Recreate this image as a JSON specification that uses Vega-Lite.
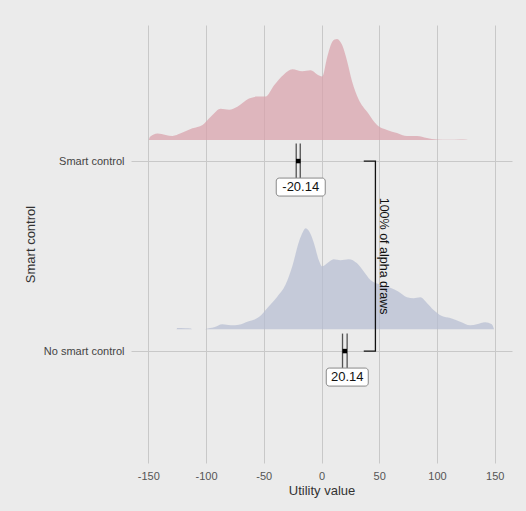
{
  "$schema": "https://vega.github.io/schema/vega-lite/v6.json",
  "width": 381,
  "height": 438,
  "autosize": {"type": "none"},
  "padding": {"left": 131, "top": 25, "right": 14, "bottom": 48},
  "background": "#EBEBEB",
  "config": {
    "view": {"stroke": null},
    "font": "Liberation Sans",
    "locale": {"number": {"decimal": ".", "thousands": ",", "grouping": [3], "currency": ["$", ""], "minus": "-"}},
    "axis": {"labelFont": "Liberation Sans", "titleFont": "Liberation Sans"}
  },
  "datasets": {
    "smart": [
      {"u": -149.5, "d": 0}, {"u": -148.7, "d": 0.03}, {"u": -142, "d": 0.065}, {"u": -135, "d": 0.05},
      {"u": -129, "d": 0.04}, {"u": -121.9, "d": 0.066}, {"u": -111.8, "d": 0.116}, {"u": -103, "d": 0.15},
      {"u": -95.9, "d": 0.23}, {"u": -87.3, "d": 0.31}, {"u": -80, "d": 0.3}, {"u": -72.9, "d": 0.33},
      {"u": -62.8, "d": 0.41}, {"u": -55.6, "d": 0.43}, {"u": -48.4, "d": 0.43}, {"u": -41.2, "d": 0.54},
      {"u": -32.6, "d": 0.65}, {"u": -25.3, "d": 0.7}, {"u": -16.7, "d": 0.68}, {"u": -9.5, "d": 0.69},
      {"u": -3.7, "d": 0.65}, {"u": 0.6, "d": 0.63}, {"u": 4.9, "d": 0.82}, {"u": 9.2, "d": 0.97},
      {"u": 11.5, "d": 0.995}, {"u": 13.5, "d": 1.0}, {"u": 15.8, "d": 0.98}, {"u": 17.9, "d": 0.94}, {"u": 22.2, "d": 0.78}, {"u": 26.5, "d": 0.58},
      {"u": 32.3, "d": 0.4}, {"u": 39.5, "d": 0.28}, {"u": 48.1, "d": 0.15}, {"u": 56.8, "d": 0.1},
      {"u": 65.4, "d": 0.07}, {"u": 74, "d": 0.04}, {"u": 82.7, "d": 0.04}, {"u": 91.3, "d": 0.02},
      {"u": 100, "d": 0.005}, {"u": 110, "d": 0.002}, {"u": 120, "d": 0.006}, {"u": 126, "d": 0.004},
      {"u": 127, "d": 0}
    ],
    "nosmart": [
      {"u": -125.5, "d": 0}, {"u": -125, "d": 0.012}, {"u": -118, "d": 0.01}, {"u": -113, "d": 0.008},
      {"u": -112, "d": 0}, {"u": -101, "d": 0}, {"u": -100.3, "d": 0.003}, {"u": -93, "d": 0.02},
      {"u": -85.8, "d": 0.05}, {"u": -78.6, "d": 0.04}, {"u": -71.5, "d": 0.045}, {"u": -64.2, "d": 0.075},
      {"u": -54.2, "d": 0.12}, {"u": -46.9, "d": 0.21}, {"u": -38.3, "d": 0.32}, {"u": -31.1, "d": 0.44},
      {"u": -25.3, "d": 0.62}, {"u": -19.6, "d": 0.86}, {"u": -16.5, "d": 0.95}, {"u": -13.8, "d": 0.995}, {"u": -11, "d": 0.97},
      {"u": -6.6, "d": 0.85}, {"u": -2.3, "d": 0.68}, {"u": 0.6, "d": 0.62}, {"u": 4.9, "d": 0.65},
      {"u": 10.6, "d": 0.69}, {"u": 16.4, "d": 0.68}, {"u": 23.6, "d": 0.69}, {"u": 30.8, "d": 0.65},
      {"u": 36.6, "d": 0.57}, {"u": 42.4, "d": 0.485}, {"u": 51, "d": 0.44}, {"u": 59.6, "d": 0.41},
      {"u": 66.8, "d": 0.37}, {"u": 74, "d": 0.315}, {"u": 79.8, "d": 0.305}, {"u": 85.6, "d": 0.315},
      {"u": 91.3, "d": 0.26}, {"u": 97.1, "d": 0.19}, {"u": 104.3, "d": 0.13}, {"u": 111.5, "d": 0.11},
      {"u": 120.1, "d": 0.075}, {"u": 128.8, "d": 0.04}, {"u": 134.6, "d": 0.05}, {"u": 141.7, "d": 0.07},
      {"u": 147.5, "d": 0.05}, {"u": 149.5, "d": 0}
    ],
    "summary": [
      {"group": "Smart control", "level": 2, "mean": -20.14, "lower": -21.9, "upper": -18.4},
      {"group": "No smart control", "level": 1, "mean": 20.14, "lower": 18.2, "upper": 22.2}
    ],
    "bracket": [
      {"bx": 36.6, "level": 2, "o": 1},
      {"bx": 46.7, "level": 2, "o": 2},
      {"bx": 46.7, "level": 1, "o": 3},
      {"bx": 36.6, "level": 1, "o": 4}
    ],
    "note": [
      {"text": "100% of alpha draws", "nx": 54.5, "level": 1.5}
    ]
  },
  "resolve": {"scale": {"y": "independent"}},
  "layer": [
    {
      "data": {"name": "smart"},
      "mark": {"type": "area", "interpolate": "monotone", "color": "#D9A0A9", "opacity": 0.7},
      "encoding": {
        "x": {
          "field": "u", "type": "quantitative",
          "scale": {"domain": [-165, 165], "nice": false, "zero": false},
          "axis": {
            "values": [-150, -100, -50, 0, 50, 100, 150],
            "title": "Utility value",
            "grid": true, "gridColor": "#C8C8C8", "gridWidth": 1,
            "domain": false, "ticks": false,
            "labelFontSize": 11, "labelColor": "#555555", "labelPadding": 7,
            "titleFontSize": 13, "titleFontWeight": "normal", "titleColor": "#333333", "titlePadding": 3
          }
        },
        "y": {
          "field": "d", "type": "quantitative",
          "scale": {"domain": [-3.198, 1.139], "nice": false, "zero": false},
          "axis": null
        },
        "y2": {"datum": 0}
      }
    },
    {
      "data": {"name": "nosmart"},
      "mark": {"type": "area", "interpolate": "monotone", "color": "#B5BCD2", "opacity": 0.7},
      "encoding": {
        "x": {"field": "u", "type": "quantitative"},
        "y": {
          "field": "d", "type": "quantitative",
          "scale": {"domain": [-1.316, 2.995], "nice": false, "zero": false},
          "axis": null
        },
        "y2": {"datum": 0}
      }
    },
    {
      "layer": [
        {
          "data": {"name": "summary"},
          "mark": {"type": "tick", "orient": "vertical", "color": "#111111", "size": 35, "thickness": 1.3},
          "encoding": {
            "x": {"field": "lower", "type": "quantitative"},
            "y": {
              "field": "level", "type": "quantitative",
              "scale": {"domain": [0.411, 2.716], "nice": false, "zero": false},
              "axis": {
                "values": [1, 2],
                "labelExpr": "datum.value == 2 ? 'Smart control' : 'No smart control'",
                "title": "Smart control",
                "grid": true, "gridColor": "#C8C8C8", "gridWidth": 1,
                "domain": false, "ticks": false,
                "labelFontSize": 11, "labelColor": "#444444", "labelPadding": 7,
                "titleFontSize": 13, "titleFontWeight": "normal", "titleColor": "#333333", "titlePadding": 6
              }
            }
          }
        },
        {
          "data": {"name": "summary"},
          "mark": {"type": "tick", "orient": "vertical", "color": "#111111", "size": 35, "thickness": 1.3},
          "encoding": {
            "x": {"field": "upper", "type": "quantitative"},
            "y": {"field": "level", "type": "quantitative"}
          }
        },
        {
          "data": {"name": "summary"},
          "mark": {"type": "point", "shape": "square", "filled": true, "color": "#000000", "size": 20, "opacity": 1},
          "encoding": {
            "x": {"field": "mean", "type": "quantitative"},
            "y": {"field": "level", "type": "quantitative"}
          }
        },
        {
          "mark": {"type": "rule", "color": "#111111", "strokeWidth": 1.2},
          "encoding": {"x": {"datum": 0}}
        },
        {
          "data": {"name": "bracket"},
          "mark": {"type": "line", "color": "#111111", "strokeWidth": 1.3, "interpolate": "linear"},
          "encoding": {
            "x": {"field": "bx", "type": "quantitative"},
            "y": {"field": "level", "type": "quantitative"},
            "order": {"field": "o"}
          }
        },
        {
          "data": {"name": "note"},
          "mark": {"type": "text", "angle": 90, "fontSize": 12.5, "color": "#111111", "baseline": "middle", "align": "center"},
          "encoding": {
            "x": {"field": "nx", "type": "quantitative"},
            "y": {"field": "level", "type": "quantitative"},
            "text": {"field": "text"}
          }
        },
        {
          "data": {"name": "summary"},
          "transform": [{"filter": "datum.level == 2"}],
          "mark": {
            "type": "point", "filled": true, "fill": "#FFFFFF", "stroke": "#888888", "strokeWidth": 1, "opacity": 1,
            "shape": "M-0.878,-0.367 H0.878 A0.122,0.122 0 0 1 1,-0.245 V0.245 A0.122,0.122 0 0 1 0.878,0.367 H-0.878 A0.122,0.122 0 0 1 -1,0.245 V-0.245 A0.122,0.122 0 0 1 -0.878,-0.367 Z",
            "size": 2401, "xOffset": 2.5, "yOffset": 26
          },
          "encoding": {
            "x": {"field": "mean", "type": "quantitative"},
            "y": {"field": "level", "type": "quantitative"}
          }
        },
        {
          "data": {"name": "summary"},
          "transform": [{"filter": "datum.level == 1"}],
          "mark": {
            "type": "point", "filled": true, "fill": "#FFFFFF", "stroke": "#888888", "strokeWidth": 1, "opacity": 1,
            "shape": "M-0.857,-0.429 H0.857 A0.143,0.143 0 0 1 1,-0.286 V0.286 A0.143,0.143 0 0 1 0.857,0.429 H-0.857 A0.143,0.143 0 0 1 -1,0.286 V-0.286 A0.143,0.143 0 0 1 -0.857,-0.429 Z",
            "size": 1764, "xOffset": 2.5, "yOffset": 26
          },
          "encoding": {
            "x": {"field": "mean", "type": "quantitative"},
            "y": {"field": "level", "type": "quantitative"}
          }
        },
        {
          "data": {"name": "summary"},
          "mark": {"type": "text", "fontSize": 13, "color": "#111111", "baseline": "middle", "align": "center", "dx": 2.5, "dy": 26},
          "encoding": {
            "x": {"field": "mean", "type": "quantitative"},
            "y": {"field": "level", "type": "quantitative"},
            "text": {"field": "mean", "type": "quantitative", "format": ".2f"}
          }
        }
      ]
    }
  ]
}
